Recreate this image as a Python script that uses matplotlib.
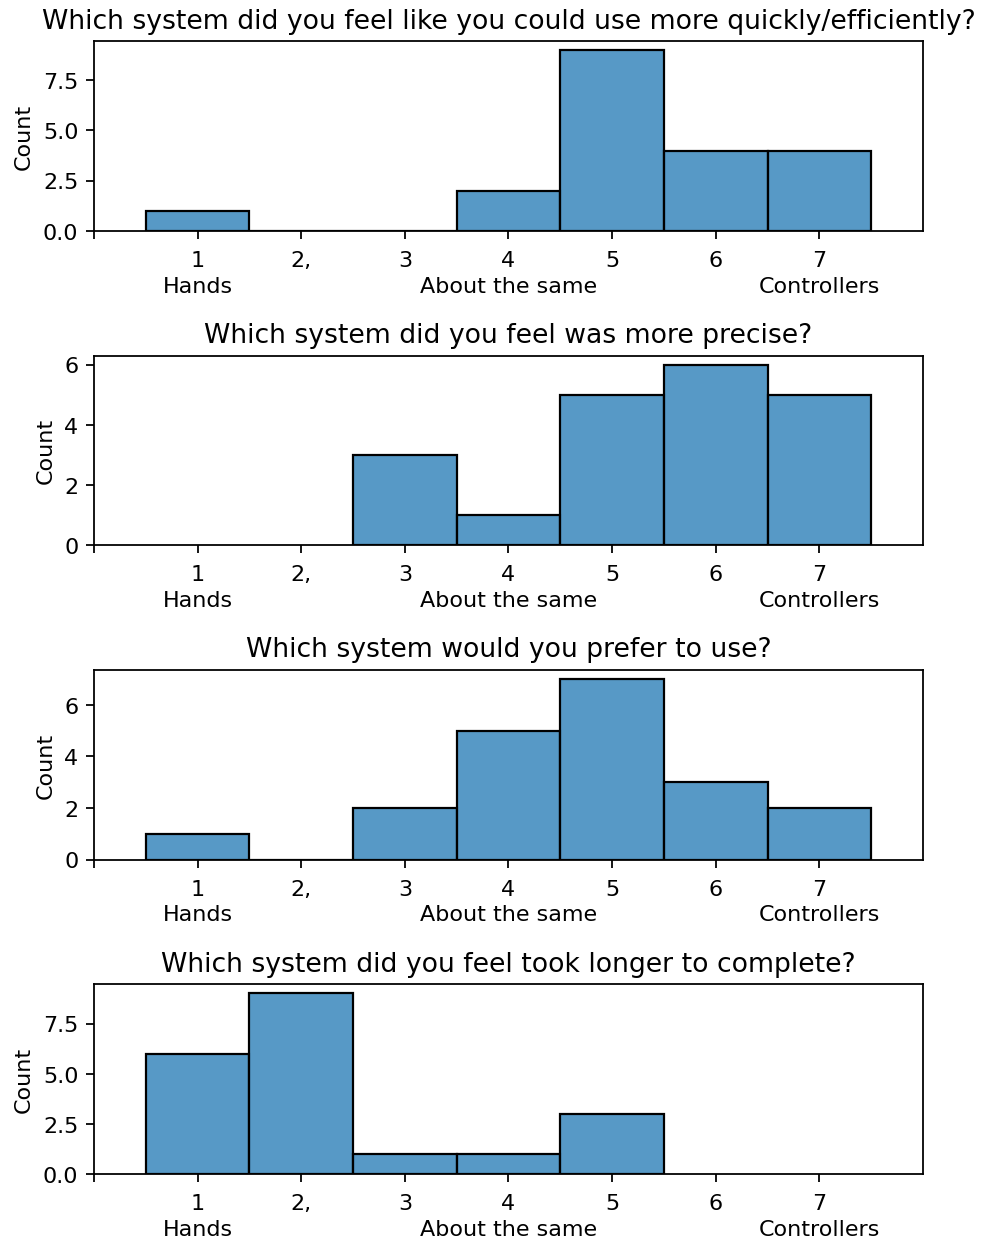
import numpy as np
import matplotlib
matplotlib.use('Agg')
import matplotlib.pyplot as plt
import seaborn as sns

# questions (subplot titles)
titles = ['Which system did you feel like you could use more quickly/efficiently?',
          'Which system did you feel was more precise?',
          'Which system would you prefer to use?',
          'Which system did you feel took longer to complete?']

# answer levels and counts
levels_q1 = [1, 2, 3, 4, 5, 6, 7]
counts_q1 = [1, 0, 0, 2, 9, 4, 4]
levels_q2 = [3, 4, 5, 6, 7]
counts_q2 = [3, 1, 5, 6, 5]
levels_q3 = [1, 2, 3, 4, 5, 6, 7]
counts_q3 = [1, 0, 2, 5, 7, 3, 2]
levels_q4 = [1, 2, 3, 4, 5]
counts_q4 = [6, 9, 1, 1, 3]

tick_pos = [0, 1, 2, 3, 4, 5, 6, 7]
tick_labels = ['', '1\nHands', '2,', '3', '4\nAbout the same', '5', '6', '7\nControllers']

data = [(levels_q1, counts_q1), (levels_q2, counts_q2),
        (levels_q3, counts_q3), (levels_q4, counts_q4)]

fig, axes = plt.subplots(4, 1, figsize=(6.15, 7.78), dpi=160)
plt.subplots_adjust(left=0.0955, right=0.938, top=0.9663, bottom=0.0562, hspace=0.658)

for ax, title, (lv, ct) in zip(axes, titles, data):
    # zero-count levels are kept as weight 0 so the bin range matches the answers given
    sns.histplot(x=np.array(lv), weights=np.array(ct), discrete=True, ax=ax,
                 edgecolor='black')
    ax.set_xlim(0, 8)
    ax.set_xticks(tick_pos)
    ax.set_xticklabels(tick_labels, linespacing=1.35)
    ax.tick_params(axis='x', pad=5.2)
    ax.set_ylabel('Count')
    ax.set_title(title)

plt.savefig('out.png', dpi=160)
plt.close()
